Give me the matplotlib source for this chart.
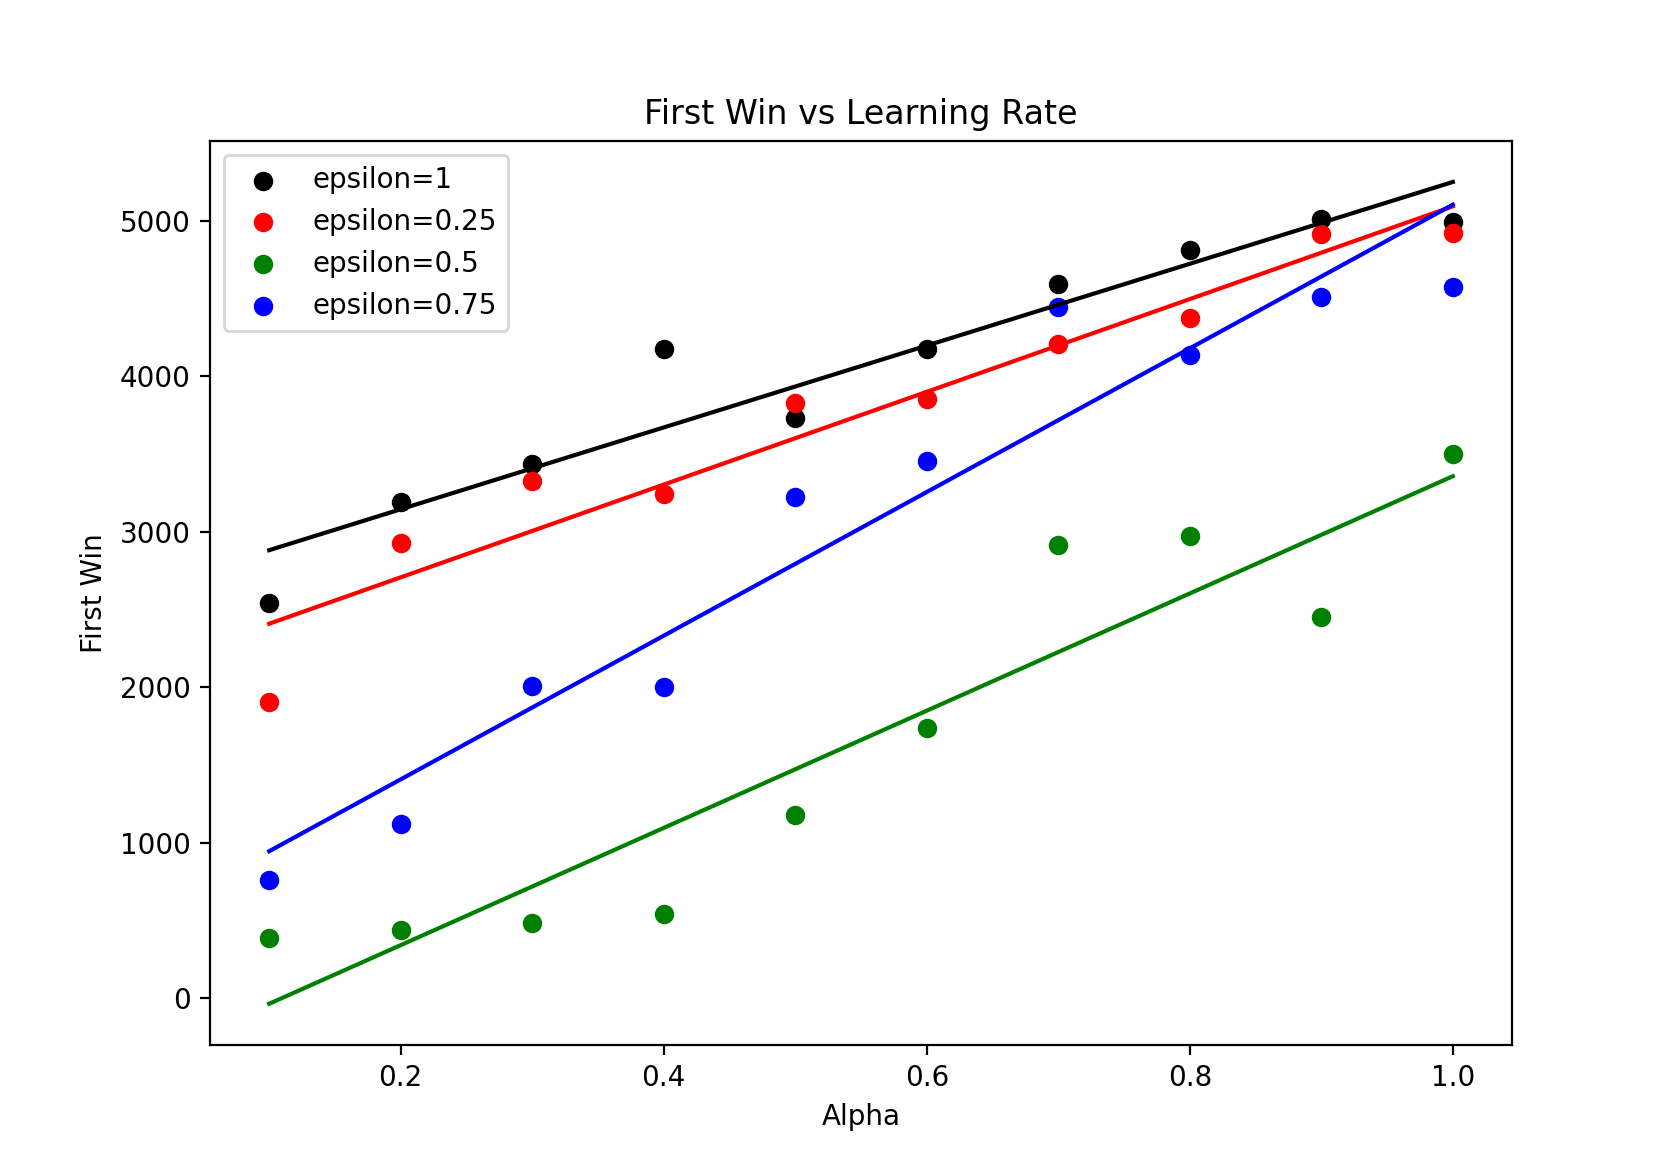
import numpy as np
import matplotlib.pyplot as plt

alpha = [0.1, 0.2, 0.3, 0.4, 0.5, 0.6, 0.7, 0.8, 0.9, 1.0]
eps_1 = [2541, 3189, 3437, 4174, 3733, 4174, 4594, 4814, 5014, 4993]
eps_025 = [1908, 2927, 3326, 3244, 3829, 3857, 4208, 4373, 4917, 4924]
eps_05 = [386, 441, 482, 544, 1178, 1736, 2913, 2975, 2452, 3499]
eps_075 = [758, 1123, 2011, 2004, 3223, 3457, 4449, 4139, 4511, 4573]

series = [
    ("epsilon=1", eps_1, "black"),
    ("epsilon=0.25", eps_025, "red"),
    ("epsilon=0.5", eps_05, "green"),
    ("epsilon=0.75", eps_075, "blue"),
]

fig, ax = plt.subplots(figsize=(8.4, 5.87), dpi=200)
x = np.array(alpha)
for label, ys, color in series:
    ax.scatter(x, ys, color=color, label=label)
    m, b = np.polyfit(x, ys, 1)
    ax.plot(x, m * x + b, color=color)

ax.set_title("First Win vs Learning Rate")
ax.set_xlabel("Alpha")
ax.set_ylabel("First Win")
ax.legend(loc="upper left")
plt.savefig("out.png", dpi=200)
